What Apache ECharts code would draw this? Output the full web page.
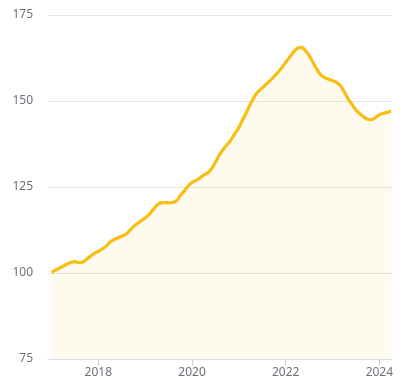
<!DOCTYPE html>
<html>
<head>
<meta charset="utf-8">
<script src="https://cdn.jsdelivr.net/npm/echarts@6/dist/echarts.min.js"></script>
<style>
html,body{margin:0;padding:0;background:#fff;}
#chart{width:400px;height:388px;}
</style>
</head>
<body>
<div id="chart"></div>
<script>
// Monthly index values, Jan 2017 .. Apr 2024
var startYear = 2017;
var values = [
  100.2, 100.8, 101.4, 102.0, 102.6, 103.1, 103.3, 103.0, 103.2, 104.0, 104.9, 105.7,
  106.3, 107.0, 107.8, 109.0, 109.7, 110.2, 110.7, 111.2, 112.3, 113.5, 114.4, 115.2,
  116.0, 117.0, 118.4, 119.7, 120.4, 120.5, 120.4, 120.5, 121.0, 122.5, 123.8, 125.3,
  126.3, 126.9, 127.6, 128.5, 129.1, 130.3, 132.2, 134.3, 136.0, 137.3, 138.7, 140.6,
  142.3, 144.6, 146.8, 149.2, 151.3, 152.8, 153.8, 154.9, 155.9, 157.1, 158.3, 159.7,
  161.2, 162.7, 164.2, 165.3, 165.6, 164.7, 163.2, 161.2, 159.2, 157.6, 156.8, 156.3,
  155.9, 155.4, 154.5, 152.7, 150.6, 149.0, 147.4, 146.3, 145.4, 144.7, 144.6, 145.2,
  146.0, 146.4, 146.7, 147.1
];
var xTickYears = [2018, 2020, 2022, 2024];
var yTicks = [75, 100, 125, 150, 175];

var seriesData = values.map(function (v, i) {
  return [startYear + i / 12, v];
});

var chart = echarts.init(document.getElementById('chart'));
chart.setOption({
  animation: false,
  grid: { left: 48, right: 8, top: 15, bottom: 29, containLabel: false },
  xAxis: {
    type: 'value',
    min: 2016.925,
    max: 2024.27,
    splitLine: { show: false },
    axisLine: { show: true, lineStyle: { color: '#DCDCEC', width: 1 } },
    axisTick: { show: true, customValues: xTickYears, length: 6, lineStyle: { color: '#C8C8D2' } },
    axisLabel: {
      customValues: xTickYears,
      color: '#6E7079',
      fontSize: 12,
      margin: 8,
      fontFamily: 'Noto Sans',
      formatter: function (v) { return String(Math.round(v)); }
    }
  },
  yAxis: {
    type: 'value',
    min: yTicks[0],
    max: yTicks[yTicks.length - 1],
    interval: 25,
    axisLine: { show: false },
    axisTick: { show: false },
    splitLine: { lineStyle: { color: '#E6E6EC', width: 1 } },
    axisLabel: { color: '#6E7079', fontSize: 12, margin: 15, fontFamily: 'Noto Sans' }
  },
  series: [{
    type: 'line',
    data: seriesData,
    smooth: true,
    showSymbol: false,
    lineStyle: { color: '#F8BE12', width: 3.2 },
    itemStyle: { color: '#F8BE12' },
    areaStyle: { color: 'rgba(250,190,20,0.1)', origin: 'start' }
  }]
});
</script>
</body>
</html>
